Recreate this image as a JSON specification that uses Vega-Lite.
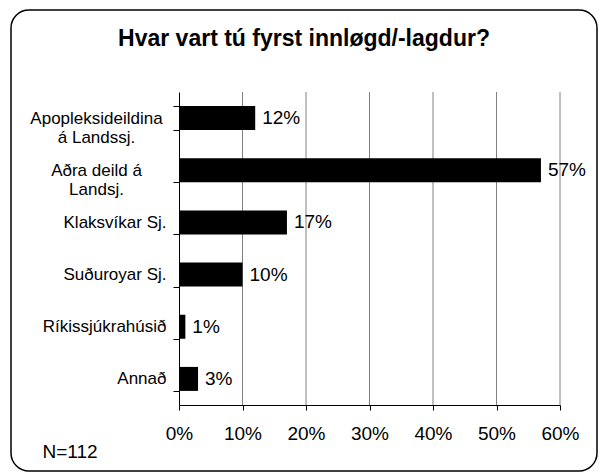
{
  "$schema": "https://vega.github.io/schema/vega-lite/v6.json",
  "autosize": "none",
  "padding": {"left": 11, "top": 10, "right": 5, "bottom": 4},
  "width": 586,
  "height": 461,
  "background": "white",
  "config": {
    "view": {"stroke": "black", "strokeWidth": 1.5, "cornerRadius": 18, "fill": "white"},
    "font": "Liberation Sans"
  },
  "title": {
    "text": "Hvar vart tú fyrst innløgd/-lagdur?",
    "font": "Liberation Sans",
    "fontSize": 23,
    "fontWeight": "bold",
    "color": "black",
    "anchor": "middle",
    "frame": "group",
    "baseline": "alphabetic",
    "offset": -38,
    "dy": 30
  },
  "datasets": {
    "main": [
      {"cat": "Apopleksideildina á Landssj.", "pct": 0.12},
      {"cat": "Aðra deild á Landsj.", "pct": 0.57},
      {"cat": "Klaksvíkar Sj.", "pct": 0.17},
      {"cat": "Suðuroyar Sj.", "pct": 0.10},
      {"cat": "Ríkissjúkrahúsið", "pct": 0.01},
      {"cat": "Annað", "pct": 0.03}
    ],
    "grid": [{"g": 0.1}, {"g": 0.2}, {"g": 0.3}, {"g": 0.4}, {"g": 0.5}, {"g": 0.6}]
  },
  "layer": [
    {
      "data": {"name": "grid"},
      "mark": {"type": "rule", "color": "#808080", "strokeWidth": 1},
      "encoding": {
        "x": {"field": "g", "type": "quantitative"},
        "y": {"datum": 0, "type": "quantitative", "scale": {"domain": [0, 1], "range": [82, 395], "nice": false, "zero": false}, "axis": null},
        "y2": {"datum": 1}
      }
    },
    {
      "data": {"name": "main"},
      "encoding": {
        "y": {
          "field": "cat",
          "type": "nominal",
          "sort": null,
          "scale": {"range": [82, 395], "paddingInner": 0.54, "paddingOuter": 0.27},
          "axis": {
            "title": null,
            "orient": "left",
            "offset": -168,
            "domainColor": "black",
            "domainWidth": 1,
            "tickColor": "black",
            "tickSize": 6,
            "tickBand": "extent",
            "labelFont": "Liberation Sans",
            "labelFontSize": 17,
            "labelColor": "black",
            "labelLineHeight": 19,
            "labelLimit": 300,
            "labelAlign": {"condition": {"test": "datum.value == 'Apopleksideildina á Landssj.' || datum.value == 'Aðra deild á Landsj.'", "value": "center"}, "value": "right"},
            "labelPadding": {"condition": {"test": "datum.value == 'Apopleksideildina á Landssj.' || datum.value == 'Aðra deild á Landsj.'", "value": 77}, "value": 7},
            "labelExpr": "datum.value == 'Apopleksideildina á Landssj.' ? ['Apopleksideildina', 'á Landssj.'] : datum.value == 'Aðra deild á Landsj.' ? ['Aðra deild á', 'Landsj.'] : datum.value"
          }
        }
      },
      "layer": [
        {
          "mark": {"type": "bar", "color": "black"},
          "encoding": {
            "x": {
              "field": "pct",
              "type": "quantitative",
              "scale": {"domain": [0, 0.6], "range": [168, 549], "nice": false},
              "axis": {
                "orient": "bottom",
                "offset": -66,
                "values": [0, 0.1, 0.2, 0.3, 0.4, 0.5, 0.6],
                "format": ".0%",
                "grid": false,
                "domainColor": "black",
                "tickColor": "black",
                "tickSize": 5,
                "labelFlush": false,
                "labelFont": "Liberation Sans",
                "labelFontSize": 19,
                "labelColor": "black",
                "labelPadding": 14,
                "title": "N=112",
                "titleFont": "Liberation Sans",
                "titleFontSize": 19,
                "titleFontWeight": "normal",
                "titleColor": "black",
                "titleAnchor": null,
                "titleAlign": "left",
                "titleBaseline": "alphabetic",
                "titleX": 31,
                "titleY": 52
              }
            }
          }
        },
        {
          "mark": {"type": "text", "align": "left", "baseline": "middle", "dx": 7, "font": "Liberation Sans", "fontSize": 19, "color": "black"},
          "encoding": {
            "x": {"field": "pct", "type": "quantitative"},
            "text": {"field": "pct", "type": "quantitative", "format": ".0%"}
          }
        }
      ]
    }
  ],
  "resolve": {"scale": {"y": "independent"}}
}
